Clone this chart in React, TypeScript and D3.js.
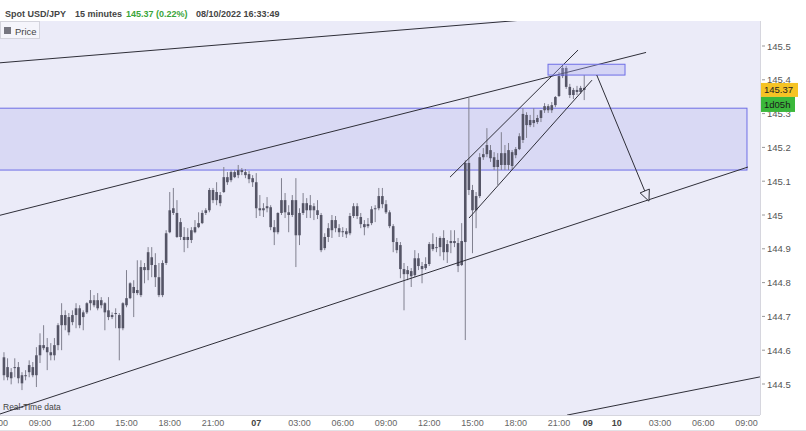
import React from 'react';
import * as d3 from 'd3';

// ---- Data (USD/JPY, 15-minute bars) ----
const OPEN = [
  144.526,144.520,144.535,144.547,144.550,144.526,144.523,144.535,144.550,144.526,
  144.585,144.606,144.609,144.594,144.585,144.615,144.674,144.704,144.698,144.683,
  144.704,144.724,144.698,144.712,144.739,144.748,144.724,144.748,144.739,144.718,
  144.698,144.710,144.704,144.665,144.733,144.754,144.787,144.769,144.763,144.846,
  144.837,144.875,144.852,144.816,144.763,144.858,144.949,145.006,145.006,144.979,
  144.935,144.926,144.926,144.949,144.964,144.976,145.006,145.014,145.074,145.044,
  145.035,145.068,145.112,145.103,145.127,145.118,145.133,145.127,145.121,145.109,
  145.097,145.020,145.014,145.020,145.023,144.964,144.949,145.006,145.044,145.008,
  145.000,145.044,144.940,145.006,145.035,145.014,145.026,145.014,145.000,144.902,
  144.935,144.955,144.985,144.961,144.949,144.952,144.946,144.997,145.026,144.994,
  144.973,144.967,144.976,145.017,145.020,145.056,145.032,145.008,144.967,144.920,
  144.911,144.840,144.825,144.834,144.822,144.872,144.849,144.843,144.855,144.914,
  144.902,144.905,144.932,144.890,144.917,144.923,144.917,144.852,144.920,145.154,
  145.074,145.014,145.056,145.171,145.180,145.192,145.171,145.142,145.148,145.183,
  145.148,145.186,145.177,145.195,145.222,145.296,145.266,145.281,145.275,145.287,
  145.310,145.322,145.310,145.325,145.352,145.411,145.435,145.379,145.355,145.370,
  145.364,145.376,
];
const HIGH = [
  144.594,144.576,144.547,144.576,144.565,144.535,144.541,144.570,144.565,144.609,
  144.650,144.674,144.636,144.621,144.636,144.680,144.739,144.718,144.710,144.718,
  144.739,144.733,144.718,144.742,144.778,144.763,144.769,144.757,144.742,144.757,
  144.712,144.724,144.710,144.742,144.837,144.801,144.807,144.866,144.866,144.858,
  144.905,144.905,144.887,144.858,144.866,144.955,145.068,145.080,145.044,144.991,
  144.964,144.961,144.964,144.985,145.008,145.014,145.020,145.080,145.080,145.097,
  145.068,145.142,145.127,145.133,145.133,145.148,145.139,145.136,145.130,145.118,
  145.124,145.059,145.035,145.053,145.029,144.985,145.008,145.109,145.065,145.029,
  145.059,145.109,145.020,145.065,145.050,145.059,145.035,145.044,145.006,144.946,
  144.976,145.000,144.997,144.973,144.964,144.961,145.006,145.035,145.035,145.006,
  144.985,144.991,145.026,145.029,145.080,145.080,145.044,145.014,144.973,144.932,
  144.920,144.858,144.849,144.843,144.896,144.887,144.861,144.875,144.920,144.946,
  144.935,144.937,144.955,144.926,144.955,144.955,144.932,144.976,145.162,145.346,
  145.089,145.068,145.183,145.198,145.257,145.207,145.186,145.183,145.245,145.207,
  145.213,145.192,145.201,145.242,145.316,145.304,145.296,145.316,145.296,145.304,
  145.331,145.328,145.334,145.352,145.423,145.444,145.441,145.388,145.376,145.382,
  145.382,145.414,
];
const LOW = [
  144.511,144.511,144.499,144.520,144.502,144.482,144.511,144.520,144.520,144.491,
  144.562,144.600,144.541,144.570,144.570,144.600,144.600,144.659,144.644,144.674,
  144.665,144.665,144.659,144.707,144.718,144.727,144.718,144.724,144.659,144.689,
  144.692,144.665,144.570,144.659,144.727,144.751,144.698,144.763,144.757,144.798,
  144.807,144.816,144.787,144.757,144.757,144.852,144.946,145.000,144.932,144.926,
  144.890,144.902,144.917,144.946,144.961,144.973,145.000,145.008,145.035,145.029,
  145.026,145.065,145.089,145.097,145.109,145.109,145.118,145.109,145.094,145.083,
  144.991,144.997,144.994,145.008,144.955,144.911,144.943,145.000,144.991,144.949,
  144.994,144.846,144.911,145.000,144.991,144.991,144.985,144.988,144.890,144.896,
  144.920,144.932,144.949,144.935,144.935,144.932,144.940,144.991,144.988,144.961,
  144.940,144.961,144.970,144.979,145.014,145.020,145.003,144.961,144.890,144.887,
  144.813,144.718,144.807,144.787,144.816,144.837,144.798,144.837,144.849,144.893,
  144.890,144.878,144.866,144.858,144.887,144.905,144.831,144.849,144.630,145.059,
  144.887,144.961,145.050,145.163,145.171,145.157,145.133,145.089,145.133,145.133,
  145.133,145.133,145.168,145.192,145.213,145.228,145.260,145.260,145.269,145.275,
  145.302,145.302,145.302,145.319,145.349,145.405,145.373,145.346,145.343,145.355,
  145.358,145.340,
];
const CLOSE = [
  144.579,144.550,144.517,144.550,144.517,144.502,144.526,144.556,144.526,144.585,
  144.615,144.615,144.594,144.585,144.615,144.674,144.704,144.674,144.653,144.704,
  144.724,144.674,144.712,144.739,144.748,144.733,144.748,144.733,144.712,144.698,
  144.704,144.707,144.665,144.739,144.754,144.798,144.769,144.778,144.846,144.837,
  144.890,144.852,144.816,144.763,144.858,144.946,145.014,145.020,144.935,144.935,
  144.926,144.935,144.955,144.964,144.976,145.006,145.014,145.074,145.044,145.068,
  145.059,145.112,145.097,145.127,145.112,145.133,145.127,145.118,145.106,145.097,
  145.020,145.014,145.020,145.026,144.964,144.949,145.006,145.044,145.008,145.000,
  145.044,144.940,145.006,145.035,145.014,145.029,145.014,145.000,144.896,144.935,
  144.961,144.985,144.961,144.949,144.952,144.943,144.997,145.026,144.997,144.973,
  144.964,144.973,145.017,145.020,145.056,145.032,145.008,144.967,144.920,144.896,
  144.840,144.825,144.837,144.819,144.872,144.849,144.840,144.855,144.914,144.899,
  144.905,144.932,144.890,144.914,144.923,144.917,144.849,144.923,145.154,145.074,
  145.014,145.056,145.171,145.180,145.207,145.168,145.142,145.163,145.183,145.148,
  145.192,145.145,145.195,145.233,145.299,145.266,145.281,145.272,145.287,145.310,
  145.322,145.310,145.325,145.349,145.411,145.435,145.379,145.355,145.370,145.364,
  145.376,145.370,
];
// Time axis in hours counted from 06 Oct 06:00 (weekend gap compressed)
const FIRST_BAR_HOUR = 0.5;
const BAR_HOURS = 0.25;

const Y_TICKS = [144.5, 144.6, 144.7, 144.8, 144.9, 145, 145.1, 145.2, 145.3, 145.4, 145.5];
const X_TICK_HOURS = [0, 3, 6, 9, 12, 15, 18, 21, 24, 27, 30, 33, 36, 39, 41, 43, 46, 49, 52];
const X_TICK_LABELS = ['06:00', '09:00', '12:00', '15:00', '18:00', '21:00', '07', '03:00', '06:00', '09:00',
  '12:00', '15:00', '18:00', '21:00', '09', '10', '03:00', '06:00', '09:00'];

// Drawn annotations: [hour1, price1, hour2, price2]
const TRENDLINES = [
  [-1, 145.446, 40, 145.589],
  [-1, 144.986, 45.04, 145.481],
  [-1, 144.394, 52.11, 145.142],
  [39.56, 144.408, 52.94, 144.521],
  [31.44, 145.112, 40.32, 145.488],
  [32.76, 144.991, 41.29, 145.399],
];
// [hour1, hour2, priceLow, priceHigh]
const ZONE = [-1, 52.04, 145.133, 145.316];
const SMALL_BOX = [38.24, 43.58, 145.414, 145.446];
const ARROW = [41.62, 145.414, 45.24, 145.041];

const LAST_PRICE = 145.37;
const HEADER = { pair: 'Spot USD/JPY', period: '15 minutes', change: '145.37 (0.22%)', stamp: '08/10/2022 16:33:49' };

const W = 806;
const H = 431;
const PLOT = { left: 0, right: 760, top: 21, bottom: 415 };
const FONT = "'Liberation Sans', Arial, Helvetica, sans-serif";

export default function App() {
  const x = d3.scaleLinear().domain([0, 52]).range([-3.25, 746.4]);
  const y = d3.scaleLinear().domain([144.5, 145.5]).range([384, 46]);
  const candles = d3.range(OPEN.length).map((i) => ({
    t: FIRST_BAR_HOUR + i * BAR_HOURS,
    o: OPEN[i], h: HIGH[i], l: LOW[i], c: CLOSE[i],
  }));
  const bw = 2.6;

  const [a1, ap1, a2, ap2] = ARROW;
  const ax1 = x(a1), ay1 = y(ap1), ax2 = x(a2), ay2 = y(ap2);
  const ang = Math.atan2(ay2 - ay1, ax2 - ax1);
  const hl = 11, hw = 5;
  const bx = ax2 - hl * Math.cos(ang), by = ay2 - hl * Math.sin(ang);
  const head = [
    [ax2, ay2],
    [bx + hw * Math.sin(ang), by - hw * Math.cos(ang)],
    [bx - hw * Math.sin(ang), by + hw * Math.cos(ang)],
  ];

  const yLast = y(LAST_PRICE);

  return (
    <svg width={W} height={H} style={{ position: 'absolute', left: 0, top: 0 }} fontFamily={FONT}>
      <defs>
        <clipPath id="plotClip">
          <rect x={PLOT.left} y={PLOT.top} width={PLOT.right - PLOT.left} height={PLOT.bottom - PLOT.top} />
        </clipPath>
      </defs>
      <rect x={0} y={0} width={W} height={H} fill="#ffffff" />
      <rect x={PLOT.left} y={PLOT.top} width={PLOT.right - PLOT.left} height={PLOT.bottom - PLOT.top} fill="#ebebf8" />

      <g clipPath="url(#plotClip)">
        {/* zone */}
        <rect x={x(ZONE[0])} y={y(ZONE[3])} width={x(ZONE[1]) - x(ZONE[0])} height={y(ZONE[2]) - y(ZONE[3])}
          fill="#d9d9f4" stroke="#6e6ee6" strokeWidth={1} />
        {/* candles */}
        {candles.map((d, i) => {
          const cx = x(d.t);
          const top = y(Math.max(d.o, d.c));
          const bot = y(Math.min(d.o, d.c));
          return (
            <g key={i}>
              <line x1={cx} x2={cx} y1={y(d.h)} y2={y(d.l)} stroke="#80808f" strokeWidth={1} />
              <rect x={cx - bw / 2} y={top} width={bw} height={Math.max(1, bot - top)} fill="#555566" />
            </g>
          );
        })}
        {/* trend lines */}
        {TRENDLINES.map((l, i) => (
          <line key={i} x1={x(l[0])} y1={y(l[1])} x2={x(l[2])} y2={y(l[3])} stroke="#2e2e38" strokeWidth={1} />
        ))}
        {/* small box */}
        <rect x={x(SMALL_BOX[0])} y={y(SMALL_BOX[3])} width={x(SMALL_BOX[1]) - x(SMALL_BOX[0])}
          height={y(SMALL_BOX[2]) - y(SMALL_BOX[3])} fill="rgba(170,170,240,0.35)" stroke="#6e6ee6" strokeWidth={1} />
        {/* arrow */}
        <line x1={ax1} y1={ay1} x2={bx} y2={by} stroke="#2e2e38" strokeWidth={1} />
        <polygon points={head.map((p) => p.join(',')).join(' ')} fill="#ebebf8" stroke="#2e2e38" strokeWidth={1} />
      </g>

      {/* legend box */}
      <rect x={0.5} y={21.5} width={39} height={17} fill="#f5f5fb" stroke="#d4d4dc" />
      <rect x={4} y={27} width={7} height={7} fill="#777780" />
      <text x={15} y={34.5} fontSize={9.5} fill="#444">Price</text>

      <text x={3} y={410} fontSize={8.5} fill="#444">Real-Time data</text>

      {/* header */}
      <text x={5} y={16.5} fontSize={9} fontWeight="bold" fill="#444">{HEADER.pair}</text>
      <text x={75} y={16.5} fontSize={9} fontWeight="bold" fill="#444">{HEADER.period}</text>
      <text x={126} y={16.5} fontSize={9} fontWeight="bold" fill="#3aa53a">{HEADER.change}</text>
      <text x={196} y={16.5} fontSize={9} fontWeight="bold" fill="#444">{HEADER.stamp}</text>

      {/* right axis */}
      <line x1={PLOT.right + 0.5} x2={PLOT.right + 0.5} y1={PLOT.top} y2={PLOT.bottom} stroke="#d6d6de" />
      {Y_TICKS.map((v) => (
        <g key={v}>
          <line x1={762} x2={765} y1={y(v)} y2={y(v)} stroke="#999" />
          <text x={767} y={y(v) + 3.5} fontSize={9.5} fill="#555">{d3.format('~g')(v)}</text>
        </g>
      ))}
      <rect x={761} y={yLast - 7} width={37} height={14} fill="#f6c324" />
      <text x={764} y={yLast + 3.5} fontSize={9.5} fill="#222">{LAST_PRICE.toFixed(2)}</text>
      <rect x={761} y={yLast + 7} width={34} height={15} fill="#3bb83b" />
      <text x={764} y={yLast + 18} fontSize={9.5} fill="#1a1a1a">1d05h</text>

      {/* bottom axis */}
      <line x1={0} x2={PLOT.right} y1={PLOT.bottom + 0.5} y2={PLOT.bottom + 0.5} stroke="#d6d6de" />
      {X_TICK_HOURS.map((h, i) => (
        <text key={i} x={x(h)} y={426} fontSize={9} textAnchor="middle"
          fontWeight={X_TICK_LABELS[i].length === 2 ? 'bold' : 'normal'}
          fill={X_TICK_LABELS[i].length === 2 ? '#444' : '#666'}>
          {X_TICK_LABELS[i]}
        </text>
      ))}
      <line x1={0} x2={W} y1={H - 0.5} y2={H - 0.5} stroke="#e2e2e6" />
    </svg>
  );
}
